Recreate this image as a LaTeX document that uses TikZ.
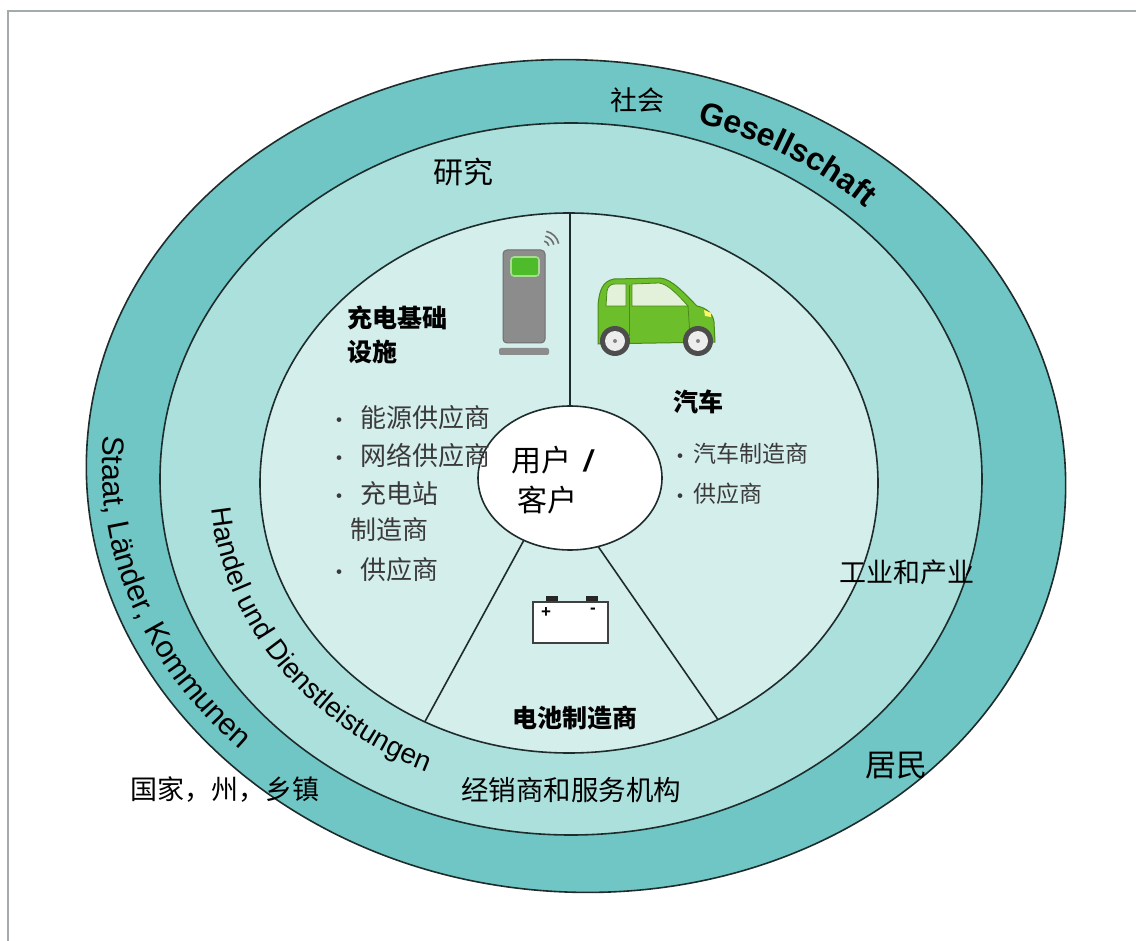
\documentclass[tikz,border=0pt]{standalone}
\usepackage{fontspec}
\setmainfont{Liberation Sans}
\newfontfamily\cjk{Noto Sans CJK SC}
\usetikzlibrary{decorations.text,shapes.geometric}

\definecolor{ringOuter}{HTML}{70C6C4}
\definecolor{ringMid}{HTML}{ACE0DD}
\definecolor{ringIn}{HTML}{D4EEEC}
\definecolor{ringEdge}{HTML}{1E2C2C}
\definecolor{frameGrey}{HTML}{A3ACAC}
\definecolor{listGrey}{HTML}{3A3A3A}
\definecolor{stationGrey}{HTML}{8C8C8C}
\definecolor{stationEdge}{HTML}{6E6E6E}
\definecolor{screenGreen}{HTML}{4DBB2A}
\definecolor{screenEdge}{HTML}{A8DC92}
\definecolor{carGreen}{HTML}{6CBE2A}
\definecolor{carEdge}{HTML}{4A8A1C}
\definecolor{carGlass}{HTML}{E3F0DA}
\definecolor{tyre}{HTML}{4D4D4D}

\newcommand\setfs[1]{\fontsize{#1}{#1}\selectfont}

\tikzset{
  ringline/.style={draw=ringEdge, line width=1.6pt},
  label/.style={font=\cjk, text=black, inner sep=0pt},
  heading/.style={font=\cjk\bfseries\setfs{25}, text=black, inner sep=0pt},
  leftitem/.style={font=\cjk\setfs{26}, text=listGrey, anchor=west, inner sep=0pt},
  rightitem/.style={font=\cjk\setfs{23}, text=listGrey, anchor=west, inner sep=0pt},
  bullet/.style={font=\cjk\setfs{22}, text=listGrey, inner sep=0pt},
}

\begin{document}
\begin{tikzpicture}[x=1pt,y=-1pt]
\useasboundingbox (0,0) rectangle (1136,941);
\fill[white] (0,0) rectangle (1136,941);

% page frame
\draw[frameGrey, line width=2pt] (8,941) -- (8,11) -- (1136,11);

% three nested rings
\filldraw[ringline, fill=ringOuter, rotate around={-4:(576,476)}] (576,476) ellipse [x radius=490, y radius=416];
\filldraw[ringline, fill=ringMid] (571,479) ellipse [x radius=411, y radius=356];
\filldraw[ringline, fill=ringIn] (569,483) ellipse [x radius=309, y radius=270];

% sector dividers of the inner disc
\coordinate (divTopA) at (570,190);
\coordinate (divTopB) at (570,430);
\coordinate (divLeftA) at (416,738);
\coordinate (divLeftB) at (530,529);
\coordinate (divRightA) at (730,737);
\coordinate (divRightB) at (586,529);
\begin{scope}
  \clip (569,483) ellipse [x radius=309, y radius=270];
  \draw[ringEdge, line width=1.6pt] (divTopA) -- (divTopB);
  \draw[ringEdge, line width=1.6pt] (divLeftA) -- (divLeftB);
  \draw[ringEdge, line width=1.6pt] (divRightA) -- (divRightB);
\end{scope}

% user / customer at the hub
\node[ringline, fill=white, ellipse, minimum width=184pt, minimum height=144pt, inner sep=0pt] (user) at (570,478) {};
\node[label, font=\cjk\setfs{30}] (userA) at (552,460) {用户\hspace{12pt}{\fontspec{Liberation Sans}\bfseries\itshape /}};
\node[label, font=\cjk\setfs{30}] (userB) at (547,500) {客户};

% curved ring captions
\path[decorate, decoration={text along path, text align=center,
  text={|\setfs{32}\bfseries|Gesellschaft}}]
  (574,475) ++(-92:425 and 368) arc[start angle=-92, end angle=-26, x radius=425, y radius=368];
\path[decorate, decoration={text along path, text align=center,
  text={|\setfs{30.5}|Staat, Länder, Kommunen}}, rotate around={-4:(576,476)}]
  (576,476) ++(209:474 and 398) arc[start angle=209, end angle=107, x radius=474, y radius=398];
\path[decorate, decoration={text along path, text align=center,
  text={|\setfs{28}|Handel und Dienstleistungen}}]
  (570,480) ++(190:360 and 318) arc[start angle=190, end angle=100, x radius=360, y radius=318];

% ring labels
\node[label, font=\cjk\setfs{27}] (society) at (637,100) {社会};
\node[label, font=\cjk\setfs{30}] (research) at (463,172) {研究};
\node[label, font=\cjk\setfs{27}] (industry) at (907,572) {工业和产业};
\node[label, font=\cjk\setfs{31}] (residents) at (896,766) {居民};
\node[label, font=\cjk\setfs{27}] (state) at (225,790) {国家，州，乡镇};
\node[label, font=\cjk\setfs{27.5}] (dealers) at (571,790) {经销商和服务机构};

% sector headings
\node[heading, anchor=west] (infraA) at (347,318) {充电基础};
\node[heading, anchor=west] (infraB) at (347,352) {设施};
\node[heading] (car) at (698,402) {汽车};
\node[heading] (battery) at (575,718) {电池制造商};

% charging infrastructure list
\node[bullet] (bA) at (339,423) {·};
\node[leftitem] (iA) at (360,418) {能源供应商};
\node[bullet] (bB) at (339,461) {·};
\node[leftitem] (iB) at (360,456) {网络供应商};
\node[bullet] (bC) at (339,499) {·};
\node[leftitem] (iC) at (360,494) {充电站};
\node[leftitem] (iD) at (350,530) {制造商};
\node[bullet] (bE) at (339,575) {·};
\node[leftitem] (iE) at (360,570) {供应商};

% vehicle list
\node[bullet] (cA) at (680,459) {·};
\node[rightitem] (jA) at (693,454) {汽车制造商};
\node[bullet] (cB) at (680,499) {·};
\node[rightitem] (jB) at (693,494) {供应商};

% charging station icon
\filldraw[fill=stationGrey, draw=stationEdge, line width=1pt, rounded corners=4pt] (503,250) rectangle (545,343);
\filldraw[fill=screenGreen, draw=screenEdge, line width=1.6pt, rounded corners=3pt] (511,257) rectangle (539,276);
\fill[stationGrey, rounded corners=2pt] (499,348) rectangle (549,355);
\foreach \r in {6,11,16}
  \draw[stationEdge, line width=1.6pt] (543,247) ++(-78:\r) arc[start angle=-78, end angle=-12, radius=\r];

% car icon
\filldraw[fill=carGreen, draw=carEdge, line width=1pt]
  (598,344) -- (598,306) .. controls (599,290) and (603,281) .. (614,279)
  -- (660,278) .. controls (672,279) and (684,293) .. (697,306)
  .. controls (707,308) and (713,314) .. (714,322) -- (715,342) -- cycle;
\filldraw[fill=carGlass, draw=carEdge, line width=0.8pt]
  (606,306) -- (607,291) .. controls (608,286) and (611,284) .. (615,284) -- (626,284) -- (626,306) -- cycle;
\filldraw[fill=carGlass, draw=carEdge, line width=0.8pt]
  (632,306) -- (632,284) -- (659,283) .. controls (668,284) and (678,295) .. (688,306) -- cycle;
\draw[carEdge, line width=0.8pt] (629,285) -- (629,336);
\draw[carEdge, line width=0.8pt] (688,306) -- (690,336);
\fill[yellow!60!white] (704,310) -- (711,313) -- (711,317) -- (705,316) -- cycle;
\foreach \cx in {615,698} {
  \fill[tyre] (\cx,341) circle [radius=15];
  \fill[white!93!black] (\cx,341) circle [radius=10];
  \fill[tyre!70] (\cx,341) circle [radius=2];
}

% battery icon
\fill[black!85] (546,596) rectangle (558,603);
\fill[black!85] (586,596) rectangle (598,603);
\filldraw[fill=white, draw=black!75, line width=1.2pt] (533,602) rectangle (608,643);
\node[font=\setfs{17}\bfseries, inner sep=0pt] (plus) at (546,613) {+};
\node[font=\setfs{17}\bfseries, inner sep=0pt] (minus) at (593,611) {-};
\end{tikzpicture}
\end{document}
